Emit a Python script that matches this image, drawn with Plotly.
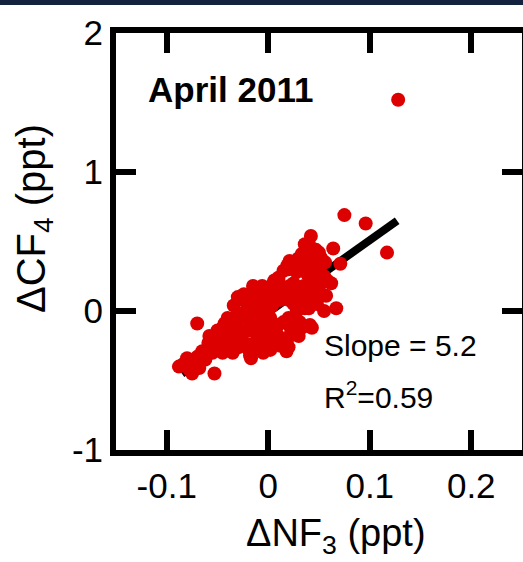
import plotly.graph_objects as go

# ---- data ----
nf3 = [0.128, 0.075, 0.096, 0.117, 0.042, 0.047, 0.064, 0.071, 0.057, 0.067,
       0.021, 0.033, 0.015, 0.010, 0.019, 0.031, 0.038, 0.050, 0.043, 0.028,
       0.033, 0.043, 0.018, 0.009, 0.045, 0.050, 0.055, 0.040, 0.025, 0.035,
       0.030, 0.045, 0.038, 0.052, 0.028, 0.022, 0.040, 0.048, 0.036,
       -0.024, -0.034, -0.011, -0.001, 0.005, -0.005, 0.002, -0.015, -0.020,
       0.012, -0.008, -0.018, -0.028, -0.040, -0.030, 0.000, 0.008, 0.020, 0.025,
       -0.012, 0.004, -0.025, -0.015, -0.002, 0.012, 0.005, -0.011, -0.027, -0.039,
       -0.017, 0.018, 0.028, -0.043, -0.041, -0.050, -0.045, -0.035, -0.020, -0.008,
       0.022, 0.015, -0.005, -0.032, -0.022, 0.000, 0.016, 0.006, -0.006, -0.030,
       -0.015, -0.070, -0.059, -0.065, -0.083, -0.075, -0.053, -0.085, -0.075, -0.068,
       -0.078, -0.088, -0.062, -0.055, -0.048, -0.058, -0.045, -0.070, -0.080,
       -0.050, -0.052, -0.040, -0.038, -0.042, -0.030, -0.031, -0.029,
       -0.020, -0.021, -0.019, -0.020, -0.018, -0.010, -0.010, -0.011, -0.009, -0.010,
       0.000, 0.001, -0.001, 0.000, 0.002, 0.010, 0.011, 0.010, 0.010,
       0.020, 0.021, 0.020, 0.021, 0.020, 0.030, 0.031, 0.030, 0.029, 0.031, 0.030,
       0.040, 0.041, 0.040, 0.039, 0.040, 0.041, 0.050, 0.051, 0.049, 0.050,
       0.056, 0.058, 0.055, 0.062, 0.036,
       -0.035, -0.045, -0.025, 0.005, 0.015, 0.025, 0.035, 0.045, -0.005, -0.060]
cf4 = [1.52, 0.69, 0.63, 0.42, 0.54, 0.44, 0.45, 0.34, 0.11, 0.02,
       0.36, 0.41, 0.29, 0.24, 0.33, 0.36, 0.27, 0.17, 0.07, 0.00,
       -0.12, -0.12, -0.22, -0.17, 0.35, 0.30, 0.25, 0.32, 0.20, 0.18,
       0.10, 0.22, 0.40, 0.38, 0.28, 0.12, 0.12, 0.05, 0.02,
       0.12, 0.04, 0.13, 0.09, 0.15, 0.02, -0.05, -0.02, 0.05,
       0.08, -0.10, -0.08, -0.03, -0.05, -0.12, -0.15, -0.10, -0.05, 0.05,
       0.06, 0.04, -0.16, -0.14, -0.22, -0.25, -0.22, -0.20, -0.20, -0.15,
       -0.34, -0.29, -0.17, -0.09, -0.09, -0.14, -0.20, -0.24, -0.27, -0.28,
       -0.12, -0.08, -0.06, -0.07, 0.00, 0.00, 0.15, 0.22, 0.18, 0.10,
       0.18, -0.09, -0.23, -0.29, -0.38, -0.45, -0.45, -0.39, -0.36, -0.41,
       -0.42, -0.40, -0.35, -0.30, -0.26, -0.18, -0.30, -0.33, -0.34,
       -0.18, -0.26, -0.10, -0.22, -0.28, -0.02, -0.16, -0.26,
       0.08, -0.05, -0.14, -0.24, -0.32, 0.10, 0.00, -0.08, -0.18, -0.26,
       0.14, 0.06, -0.10, -0.20, -0.28, 0.22, 0.12, -0.10, -0.20,
       0.30, 0.18, 0.08, -0.18, -0.26, 0.38, 0.30, 0.15, 0.05, -0.08, -0.18,
       0.48, 0.38, 0.25, 0.15, 0.02, -0.10, 0.42, 0.32, 0.20, 0.10,
       0.35, 0.22, 0.00, 0.20, 0.48,
       -0.30, -0.12, 0.08, 0.20, -0.22, -0.12, 0.05, 0.30, -0.30, -0.30]

fit_x = [-0.085, 0.127]
fit_y = [-0.452, 0.650]

x_ticks = [-0.1, 0, 0.1, 0.2]
x_ticktext = ["-0.1", "0", "0.1", "0.2"]
y_ticks = [-1, 0, 1, 2]
y_ticktext = ["-1", "0", "1", "2"]

FONT = "Liberation Sans, Arial, Helvetica, sans-serif"

W, H = 540, 562
ML, MR, MT, MB = 116, 13, 33, 112
PW, PH = W - ML - MR, H - MT - MB


def px(xp):
    return (xp - ML) / PW


def py(yp):
    return (H - MB - yp) / PH


fig = go.Figure()
fig.add_trace(go.Scatter(x=fit_x, y=fit_y, mode="lines",
                         line=dict(color="black", width=8), showlegend=False))
fig.add_trace(go.Scatter(x=nf3, y=cf4, mode="markers",
                         marker=dict(color="#dc0000", size=14, line=dict(width=0)),
                         showlegend=False))

axis_common = dict(showline=True, linecolor="black", linewidth=6, mirror="ticks",
                   ticks="inside", ticklen=20, tickwidth=6, tickcolor="black",
                   showgrid=False, zeroline=False,
                   tickfont=dict(family=FONT, size=35, color="black"))

fig.update_xaxes(range=[-0.15, 0.25], tickvals=x_ticks, ticktext=x_ticktext, **axis_common)
fig.update_yaxes(range=[-1, 2], tickvals=y_ticks, ticktext=y_ticktext, **axis_common)

annotations = [
    dict(text="<b>April 2011</b>", x=px(146), y=py(89), xanchor="left", yanchor="middle",
         font=dict(family=FONT, size=35, color="black")),
    dict(text="Slope = 5.2", x=px(325), y=py(345), xanchor="left", yanchor="middle",
         font=dict(family=FONT, size=30, color="black")),
    dict(text="R<sup>2</sup>=0.59", x=px(325), y=py(395), xanchor="left", yanchor="middle",
         font=dict(family=FONT, size=30, color="black")),
    dict(text="ΔNF<sub>3</sub> (ppt)", x=px(339), y=py(536), xanchor="center", yanchor="middle",
         font=dict(family=FONT, size=38, color="black")),
    dict(text="ΔCF<sub>4</sub>\u00a0(ppt)", x=px(33), y=py(219), xanchor="center", yanchor="middle",
         textangle=-90, font=dict(family=FONT, size=40, color="black")),
]
for a in annotations:
    a.update(xref="paper", yref="paper", showarrow=False)

fig.update_layout(
    width=W, height=H,
    margin=dict(l=ML, r=MR, t=MT, b=MB),
    paper_bgcolor="white", plot_bgcolor="white",
    annotations=annotations,
    shapes=[dict(type="rect", xref="paper", yref="paper",
                 x0=px(-20), x1=px(W + 20), y0=py(5), y1=py(-5),
                 fillcolor="#13233f", line=dict(width=0), layer="above")],
)

fig.write_html("out.html")
